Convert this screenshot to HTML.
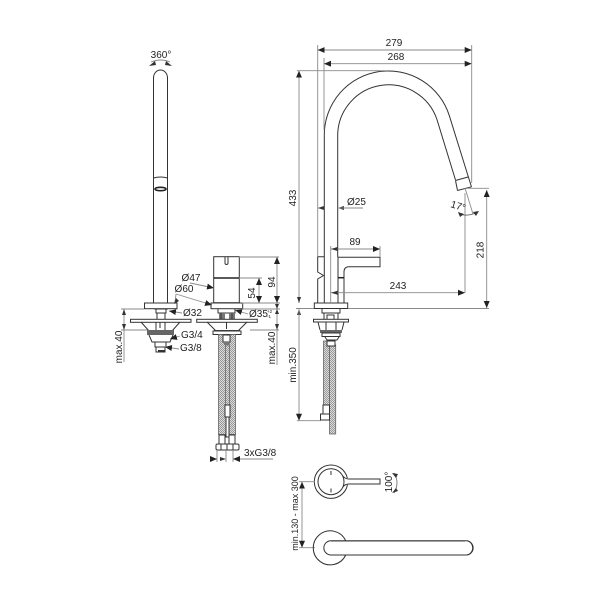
<!DOCTYPE html>
<html><head><meta charset="utf-8"><style>
html,body{margin:0;padding:0;background:#fff}
svg{display:block}
text{font-family:"Liberation Sans",sans-serif;font-size:10px;fill:#222}
.m{fill:none;stroke:#333;stroke-width:1}
.w{fill:#fff;stroke:#333;stroke-width:1}
.d{fill:none;stroke:#8a8a8a;stroke-width:.9}
.h{fill:url(#ht);stroke:#666;stroke-width:.8}
.k{fill:#333;stroke:none}
</style></head><body>
<svg width="603" height="603" viewBox="0 0 603 603" xmlns="http://www.w3.org/2000/svg">
<defs>
<marker id="a" markerUnits="userSpaceOnUse" markerWidth="7" markerHeight="6" refX="7" refY="3" orient="auto-start-reverse"><path d="M0 0L7 3L0 6Z" fill="#222"/></marker>
<pattern id="ht" width="2" height="2" patternUnits="userSpaceOnUse"><rect width="2" height="2" fill="#dcdcdc"/><rect width="1" height="1" fill="#989898"/><rect x="1" y="1" width="1" height="1" fill="#989898"/></pattern>
</defs>

<!-- left spout -->
<path class="m" d="M153.500 303V78A7 8 0 0 1 167.500 78V303"/>
<path class="m" d="M153.500 178Q160.500 176 167.500 178" stroke-width="1.200"/>
<ellipse cx="160.500" cy="189" rx="5.500" ry="1.700" fill="none" stroke="#222" stroke-width="1.600"/>
<path d="M151 62Q161 58 170 62" fill="none" stroke="#888" stroke-width=".9"/>
<path class="k" d="M149 66L155 61L156 65ZM172 66L166 61L165 65Z"/>
<text x="161" y="58" text-anchor="middle">360°</text>

<!-- left base -->
<rect class="w" x="144.500" y="303" width="32.500" height="5.700"/>
<path class="m" d="M156 309V313H166V309M157 313V319M165 313V319M154 309H168"/>
<rect class="w" x="130.500" y="319.300" width="60.500" height="3"/>
<path class="m" d="M141 322L149 331M180 322L172 331M156 322V330M165 322V330M160 322V328"/>
<rect x="147" y="330" width="27" height="5" fill="#666"/>
<path class="m" d="M149 335L152 342H170L173 335"/>
<rect class="w" x="155" y="342" width="11" height="5"/>
<rect class="w" x="156" y="347" width="9" height="5"/>
<rect x="158" y="350" width="7" height="2" fill="#333"/>

<!-- right base (body) -->
<rect class="m" x="213.700" y="256.700" width="25.600" height="46"/>
<path d="M213.700 278H239.300" stroke="#222" stroke-width="1.400"/>
<path class="m" d="M225 257V263A1.500 1.500 0 0 0 228 263V257" stroke-width=".8"/>
<rect class="w" x="211" y="303" width="31.700" height="5.700"/>
<path class="m" d="M218 309V313H235V309"/>
<rect x="219" y="313" width="6" height="6" fill="#777"/><rect x="229" y="313" width="6" height="6" fill="#777"/>
<path class="m" d="M221 313V319M232 313V319"/>
<rect class="w" x="196.700" y="319.300" width="60.600" height="3"/>
<path class="m" d="M207 322L216 331M247 322L238 331M226.500 322V329"/>
<rect x="214" y="330" width="26" height="1.500" fill="#444"/>
<rect class="w" x="213" y="331" width="28" height="3.500"/>

<!-- hoses center -->
<rect class="h" x="218.500" y="334.500" width="7.500" height="100"/>
<rect class="h" x="229" y="334.500" width="6.500" height="100"/>
<rect class="h" x="225.500" y="345" width="4" height="60"/>
<rect class="w" x="223" y="335" width="7" height="7"/>
<rect x="224" y="342" width="5" height="3" fill="#777"/>
<rect class="w" x="225" y="405" width="5" height="12"/>
<rect class="w" x="226" y="417" width="3" height="20"/>
<rect class="w" x="219" y="435" width="6" height="9"/>
<rect class="w" x="229" y="435" width="6" height="9"/>
<rect class="w" x="216" y="444" width="23" height="6" rx="1.500"/>
<path class="m" d="M221 444V450M227 444V450M233 444V450"/>

<!-- dims center -->
<path class="d" d="M239 257H279M239 278H262M242 303H280M242 309H280"/>
<path class="d" d="M277 257V303" marker-start="url(#a)" marker-end="url(#a)"/>
<path class="d" d="M259 278V303" marker-start="url(#a)" marker-end="url(#a)"/>
<text transform="translate(275,282) rotate(-90)" text-anchor="middle">94</text>
<text transform="translate(255,293) rotate(-90)" text-anchor="middle">54</text>
<path class="d" d="M277 303V309" />
<path class="k" d="M277 309L275 304H279ZM277 309L275 314H279Z"/>
<path class="d" d="M277 314V365M250 330H279M277 330" />
<path class="k" d="M277 330L275 324H279Z"/>
<text transform="translate(275,348) rotate(-90)" text-anchor="middle">max.40</text>
<path class="d" d="M124 309V362M121 309H144M121 330H147"/>
<path class="k" d="M124 309L122 315H126ZM124 330L122 324H126Z"/>
<text transform="translate(122,347) rotate(-90)" text-anchor="middle">max.40</text>

<text x="191" y="281" text-anchor="middle">Ø47</text>
<path class="d" d="M190 283L214 288" marker-end="url(#a)"/>
<text x="184" y="292" text-anchor="middle">Ø60</text>
<path class="d" d="M176 294L212 305" marker-end="url(#a)"/>
<path class="d" d="M176 294L175 302"/>
<path class="k" d="M174 304L176 298L179 301Z"/>
<text x="183" y="316">Ø32</text>
<path class="d" d="M182 313L169 311" marker-end="url(#a)"/>
<text x="249" y="317">Ø35</text>
<text x="267" y="313" style="font-size:4.500px">+2</text>
<text x="267" y="318" style="font-size:4.500px">-1</text>
<path class="d" d="M248 314L235 310" marker-end="url(#a)"/>
<text x="181" y="338">G3/4</text>
<path class="d" d="M180 336L170 339" marker-end="url(#a)"/>
<text x="180" y="351">G3/8</text>
<path class="d" d="M179 349L165 347" marker-end="url(#a)"/>

<!-- 3xG3/8 -->
<path class="d" d="M217 450V462M226 450V462M233 450V462"/>
<path class="d" d="M210 459H217" marker-end="url(#a)"/>
<path class="d" d="M273 459H233" marker-end="url(#a)"/>
<path class="k" d="M226 459L220 457V461Z"/>
<text x="244" y="456">3xG3/8</text>

<!-- right view -->
<path class="m" d="M324.300 303V134A64 64 0 0 1 449.200 115.300L471.500 187"/>
<path class="m" d="M337.700 257V134A51 51 0 0 1 436.800 119L455.500 180"/>
<path class="m" d="M338 257V303"/>
<path class="m" d="M455.500 180.500L468 177M457.500 190.500L471.500 186.800M455.500 180.500L457.500 190.500"/>
<!-- handle -->
<path class="m" d="M338 257.300H380V266.700H349Q344 266.700 344 272V303"/>
<path d="M338 277.700H344" stroke="#222" stroke-width="1.500"/>
<path class="m" d="M324 256.700H317.700V272L323.500 275.500L317.700 279V303"/>
<rect class="w" x="314.300" y="303" width="33.400" height="5.500"/>
<path class="m" d="M322 309V313H340V309M324 313V320M338 313V320M327 320V315H334V320"/>
<rect class="w" x="313.500" y="319.300" width="35" height="2.700"/>
<path class="m" d="M318 322L320 330M344 322L342 330M326 322V330M336 322V330"/>
<rect x="320" y="330" width="22" height="3" fill="#666"/>
<rect class="w" x="322" y="333" width="18" height="3.500"/>
<path class="m" d="M325 337L327 340H337L339 337"/>
<!-- hoses right -->
<rect class="h" x="323.500" y="341" width="6" height="64"/>
<rect class="h" x="329.500" y="345" width="6.200" height="89"/>
<rect class="w" x="327" y="341" width="8" height="5"/>
<rect class="w" x="323" y="405" width="6.500" height="9"/>
<rect class="w" x="320.500" y="414" width="9" height="6"/>

<!-- dims right -->
<path class="d" d="M317.700 45V256M471.700 45V183M324 58V130M297 70.700H388"/>
<path class="d" d="M317.700 50H471.700" marker-start="url(#a)" marker-end="url(#a)"/>
<path class="d" d="M324 63.700H471.700" marker-start="url(#a)" marker-end="url(#a)"/>
<text x="394" y="46" text-anchor="middle">279</text>
<text x="396" y="60" text-anchor="middle">268</text>
<path class="d" d="M299 70.700V303" marker-start="url(#a)"/>
<path class="k" d="M299 303L297 297H301ZM299 309L297 315H301Z"/>
<path class="d" d="M296 308.500H314M299 309V420.700" marker-end="url(#a)"/>
<path class="d" d="M297 420.700H321"/>
<text transform="translate(296,198) rotate(-90)" text-anchor="middle">433</text>
<text transform="translate(296,365) rotate(-90)" text-anchor="middle">min.350</text>
<path class="d" d="M317.700 208H324.300" />
<path class="k" d="M318 208L324 206V210ZM337.700 208L344 206V210Z"/>
<path class="d" d="M337.700 208H363"/>
<text x="347" y="205">Ø25</text>
<path class="d" d="M330.700 246V303M380 246V257"/>
<path class="d" d="M331 249H380" marker-end="url(#a)"/>
<path class="k" d="M331 249L337.500 247V251Z"/>
<text x="355" y="245" text-anchor="middle">89</text>
<path class="d" d="M331 292.700H465" marker-end="url(#a)"/>
<path class="k" d="M331 292.700L337.500 290.700V294.700Z"/>
<text x="398" y="289" text-anchor="middle">243</text>
<path class="d" d="M465 292.700V193"/>
<path class="d" d="M468 188.300H489M348 308.500H489"/>
<path class="d" d="M486.700 190V308" marker-start="url(#a)" marker-end="url(#a)"/>
<text transform="translate(483.500,250) rotate(-90)" text-anchor="middle">218</text>
<!-- 17 deg -->
<path class="d" d="M465 188L473 214"/>
<path d="M459 214Q468 217 478 212" fill="none" stroke="#666" stroke-width=".9"/>
<path class="k" d="M458 212L464 214L460 217ZM479 211L473 212L476 216Z"/>
<text transform="translate(450,207) rotate(17)">17°</text>

<!-- top view handle -->
<circle class="m" cx="331" cy="481.700" r="16.700"/>
<circle cx="331" cy="481.700" r="13" fill="#fff" stroke="#333" stroke-width="1"/>
<path d="M345 478L380 478.800V484H349L345 486Q344 482 345 478Z" fill="#fff" stroke="none"/>
<path class="m" d="M343 476Q345 479 349 479H380V484H349Q345 484 343 487"/>
<path d="M331 471V475M331 488.500V492.500" stroke="#333" stroke-width="1"/>
<path d="M394 473Q400 482.500 394 493" fill="none" stroke="#777" stroke-width=".9"/>
<path class="k" d="M392 473L398 474L396 478ZM392 493L398 491L396 488Z"/>
<text transform="translate(392,482) rotate(-90)" text-anchor="middle">100°</text>

<path class="d" d="M299 481.700H315M299 547.700H315"/>
<path class="d" d="M302 481.700V547.700" marker-start="url(#a)" marker-end="url(#a)"/>
<text transform="translate(298,513.500) rotate(-90)" text-anchor="middle" style="font-size:9px">min.130 - max 300</text>

<!-- bottom view -->
<path class="m" d="M345.700 540.700A17 17 0 1 0 345.700 555"/>
<path class="m" d="M466 540.700H331A7.150 7.150 0 0 0 331 555H466A7.150 7.150 0 0 0 466 540.700Z"/>
<path class="m" d="M467 540.700A7.500 7.500 0 0 1 467 555" transform="translate(0.500,0)"/>
<path d="M331 541.500H465" stroke="#777" stroke-width=".5"/>
</svg>
</body></html>
